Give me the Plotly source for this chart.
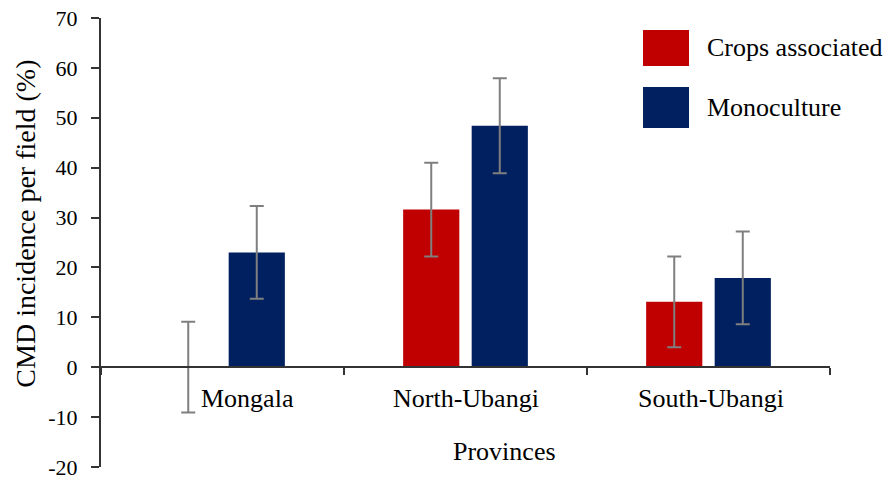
import plotly.graph_objects as go

provinces = ["Mongala", "North-Ubangi", "South-Ubangi"]
crops_associated = [0.0, 31.6, 13.1]
crops_err = [9.1, 9.4, 9.1]
monoculture = [23.0, 48.4, 17.9]
mono_err = [9.3, 9.5, 9.3]
y_ticks = [-20, -10, 0, 10, 20, 30, 40, 50, 60, 70]
y_tick_text = ["-20", "-10", "0", "10", "20", "30", "40", "50", "60", "70"]
label_shift = [25, 0, 2]  # horizontal nudge of category labels (px)

RED = "#C00000"
NAVY = "#002060"
ERR = "#7F7F7F"
FONT = "Liberation Serif"

fig = go.Figure()
fig.add_trace(go.Bar(
    x=provinces, y=crops_associated, name="Crops associated",
    marker=dict(color=RED, line=dict(width=0)),
    error_y=dict(type="data", array=crops_err, visible=True, color=ERR, thickness=2, width=7),
))
fig.add_trace(go.Bar(
    x=provinces, y=monoculture, name="Monoculture",
    marker=dict(color=NAVY, line=dict(width=0)),
    error_y=dict(type="data", array=mono_err, visible=True, color=ERR, thickness=2, width=7),
))

ymin, ymax = -20, 70
zero_pos = (0 - ymin) / (ymax - ymin)

fig.update_layout(
    width=890, height=477,
    margin=dict(l=101, r=60, t=18, b=10, autoexpand=False),
    paper_bgcolor="white", plot_bgcolor="white",
    font=dict(family=FONT, size=26, color="black"),
    barmode="group", bargap=0.436, bargroupgap=0.18,
    showlegend=False,
    xaxis=dict(
        type="category", range=[-0.5, 2.5], automargin=False,
        anchor="free", position=zero_pos,
        showline=True, linecolor="#333333", linewidth=2,
        ticks="outside", tickson="boundaries", ticklen=7, tickwidth=2, tickcolor="#333333",
        showgrid=False, zeroline=False, showticklabels=False,
    ),
    yaxis=dict(
        range=[ymin, ymax], tickvals=y_ticks, ticktext=y_tick_text, automargin=False,
        showline=True, linecolor="#333333", linewidth=2,
        ticks="outside", ticklen=8, tickwidth=2, tickcolor="#333333",
        showgrid=False, zeroline=False,
        tickfont=dict(family=FONT, size=22, color="black"),
        ticklabelstandoff=9, ticklabeloverflow="allow",
    ),
)

# category labels just below the zero line
for prov, dx in zip(provinces, label_shift):
    fig.add_annotation(
        text=prov, x=prov, y=0, xref="x", yref="y", showarrow=False,
        xanchor="center", yanchor="middle", xshift=dx, yshift=-31,
        font=dict(family=FONT, size=26, color="black"),
    )

# y axis title
fig.add_annotation(
    text="CMD incidence per field (%)", xref="paper", yref="paper",
    x=(26 - 101) / 729, y=0.542, textangle=-90, showarrow=False,
    xanchor="center", yanchor="middle",
    font=dict(family=FONT, size=28, color="black"),
)
# x axis title
fig.add_annotation(
    text="Provinces", xref="paper", yref="paper",
    x=0.553, y=0.0356, showarrow=False, xanchor="center", yanchor="middle",
    font=dict(family=FONT, size=26, color="black"),
)

# custom legend
legend_items = [("Crops associated", RED, 0.9733, 0.8931), ("Monoculture", NAVY, 0.8463, 0.755)]
for label, color, y1, y0 in legend_items:
    fig.add_shape(type="rect", xref="paper", yref="paper",
                  x0=0.7435, x1=0.8066, y0=y0, y1=y1,
                  fillcolor=color, line=dict(width=0))
    fig.add_annotation(text=label, xref="paper", yref="paper",
                       x=0.8286, y=(y0 + y1) / 2, showarrow=False,
                       xanchor="left", yanchor="middle",
                       font=dict(family=FONT, size=26, color="black"))

fig.write_html("out.html")
